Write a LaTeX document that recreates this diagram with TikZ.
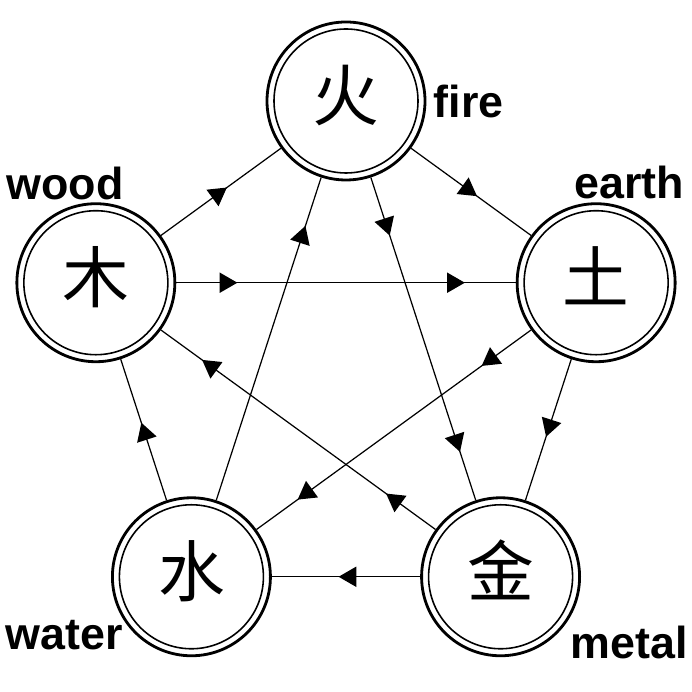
\documentclass[tikz,border=0pt]{standalone}
\usepackage{fontspec}
\setmainfont{Liberation Sans}
\newfontfamily\cjk{Noto Sans CJK SC}
\usepackage{tikz}
\usetikzlibrary{arrows}
\usetikzlibrary{decorations.markings}
\tikzset{mid/.style = {decoration={markings,
                                   mark=at position #1 with {\arrow[scale=1.6]{triangle 60}}},
                       postaction={decorate}}}
\tikzset{twomid/.style 2 args = {decoration={markings,
                                   mark=at position #1 with {\arrow[scale=1.6]{triangle 60}},
                                   mark=at position #2 with {\arrow[scale=1.6]{triangle 60}}},
                       postaction={decorate}}}
\tikzset{elem/.style = {circle, draw, line width=1.6pt, minimum size=3.16cm, inner sep=0,
                        text height=1.18cm, text depth=0.40cm,
                        font=\cjk\fontsize{38}{38}\selectfont,
                        path picture={\draw [line width=0.9pt] (path picture bounding box.center) circle (1.44cm);}}}
\tikzset{lbl/.style = {anchor=base west, inner sep=0, font=\bfseries\fontsize{25.5}{30}\selectfont}}

\begin{document}
\begin{tikzpicture}[line width=0.7pt]
      \useasboundingbox (-6.92, -6.56) rectangle (6.92, 7.28);

      \node (fire) at (90:5.26) [elem] {火};
      \node (earth) at (18:5.26) [elem] {土};
      \node (metal) at (-54:5.26) [elem] {金};
      \node (water) at (234:5.26) [elem] {水};
      \node (wood) at (162:5.26) [elem] {木};

      \node (firelbl) at (1.74, 4.92) [lbl] {fire};
      \node (earthlbl) at (4.56, 3.30) [lbl] {earth};
      \node (metallbl) at (4.48, -5.88) [lbl] {metal};
      \node (waterlbl) at (-6.82, -5.70) [lbl] {water};
      \node (woodlbl) at (-6.80, 3.28) [lbl] {wood};

      \draw [mid=0.55] (wood) -- (fire);
      \draw [mid=0.55] (fire) -- (earth);
      \draw [mid=0.55] (earth) -- (metal);
      \draw [mid=0.55] (metal) -- (water);
      \draw [mid=0.55] (water) -- (wood);
      \draw [twomid={0.18}{0.85}] (wood) -- (earth);
      \draw [twomid={0.18}{0.85}] (fire) -- (metal);
      \draw [twomid={0.18}{0.85}] (earth) -- (water);
      \draw [twomid={0.18}{0.85}] (metal) -- (wood);
      \draw [mid=0.85] (water) -- (fire);
    \end{tikzpicture}
\end{document}
